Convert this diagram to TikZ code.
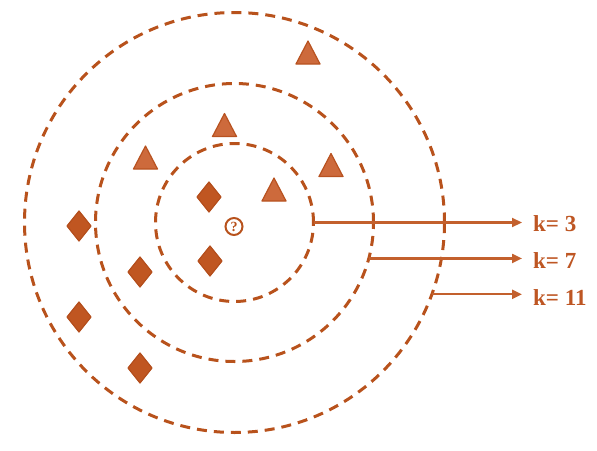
\documentclass[tikz,border=0pt]{standalone}
\usepackage{fontspec}
\setmainfont{Liberation Serif}
\usetikzlibrary{arrows.meta}
\definecolor{dashc}{RGB}{184,82,28}
\definecolor{diaf}{RGB}{192,86,33}
\definecolor{diad}{RGB}{180,78,28}
\definecolor{trif}{RGB}{205,106,60}
\definecolor{trid}{RGB}{184,82,32}
\definecolor{arrc}{RGB}{195,96,45}
\definecolor{labc}{RGB}{190,86,35}
\tikzset{
  ring/.style={circle, draw=dashc, line width=3pt, dash pattern=on 10pt off 7pt, inner sep=0pt, outer sep=0pt},
  qmark/.style={circle, draw=dashc, line width=2pt, minimum size=17pt, inner sep=0pt, text=dashc, font=\bfseries\fontsize{14}{14}\selectfont},
  lab/.style={anchor=base west, inner sep=0pt, text=labc, font=\bfseries\fontsize{23}{23}\selectfont},
  arr/.style={draw=arrc, line width=2.2pt, -{Triangle[length=10pt,width=9pt]}, shorten >=11pt},
  tris/.style={fill=trif, draw=trid, line width=1.2pt, line join=round},
  dias/.style={fill=diaf, draw=diad, line width=1.2pt, line join=round},
  tri/.pic={\filldraw[tris] (0,-11.5) -- (12,11.5) -- (-12,11.5) -- cycle;},
  dia/.pic={\filldraw[dias] (0,-15) -- (12,0) -- (0,15) -- (-12,0) -- cycle;}
}
\begin{document}
\begin{tikzpicture}[x=1pt,y=-1pt]
\useasboundingbox (0,0) rectangle (597,450);
\coordinate (o) at (234.5,222.5);
\node[ring, minimum size=420pt] (c11) at (o) {};
\node[ring, minimum size=278pt] (c7) at (o) {};
\node[ring, minimum size=158pt] (c3) at (o) {};
\node[qmark] (q) at (234,226.5) {?};
\foreach \x/\y in {308/52.5, 224.5/125, 331/165, 274/189.5, 145.5/157.5}
  \pic at (\x,\y) {tri};
\foreach \x/\y in {209/197, 210/261, 79/226, 140/272, 79/317, 140/368}
  \pic at (\x,\y) {dia};
\node[lab] (l3) at (533,231) {k= 3};
\node[lab] (l7) at (533,268) {k= 7};
\node[lab] (l11) at (533,305) {k= 11};
\draw[arr] (c3.east) -- (c3.east -| l3.west);
\draw[arr] (c7.-15.6) -- (c7.-15.6 -| l7.west);
\draw[arr] (c11.-20.8) -- (c11.-20.8 -| l11.west);
\end{tikzpicture}
\end{document}
